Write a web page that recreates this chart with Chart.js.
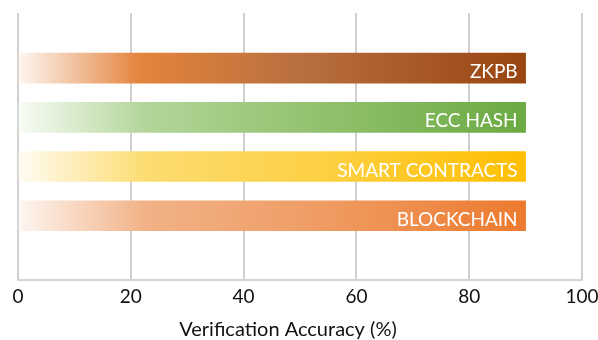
<!DOCTYPE html>
<html>
<head>
<meta charset="utf-8">
<script src="https://cdn.jsdelivr.net/npm/chart.js@4"></script>
<style>
html,body{margin:0;padding:0;background:#fff;}
#wrap{width:598px;height:340px;position:relative;}
</style>
</head>
<body>
<div id="wrap"><canvas id="c" width="598" height="340"></canvas></div>
<script>
const categories = ['ZKPB', 'ECC HASH', 'SMART CONTRACTS', 'BLOCKCHAIN'];
const accuracy = [90, 90, 90, 90];
const xTicks = [0, 20, 40, 60, 80, 100];
const xTitle = 'Verification Accuracy (%)';

const gradientStops = [
  [[0,'#fdf7f2'],[0.24,'#e4843d'],[0.55,'#b9703f'],[1,'#984511']],
  [[0,'#f8fcf6'],[0.25,'#b3d59a'],[0.6,'#92c16d'],[1,'#6aaa42']],
  [[0,'#fffcf3'],[0.25,'#fcdc72'],[0.6,'#fdd043'],[1,'#ffbf00']],
  [[0,'#fdf6f1'],[0.25,'#f2b287'],[0.6,'#ef9c63'],[1,'#ec7a2e']]
];

const FONT = 'Lato, "Open Sans", sans-serif';

const barLabels = {
  id: 'barLabels',
  afterDatasetsDraw(chart) {
    const ctx = chart.ctx;
    const meta = chart.getDatasetMeta(0);
    ctx.save();
    ctx.font = '19px ' + FONT;
    ctx.fillStyle = '#ffffff';
    ctx.textAlign = 'right';
    ctx.textBaseline = 'alphabetic';
    meta.data.forEach((bar, i) => {
      ctx.fillText(categories[i], bar.x - 8, bar.y + 10);
    });
    ctx.restore();
  }
};

const axisTitle = {
  id: 'axisTitle',
  afterDraw(chart) {
    const ctx = chart.ctx;
    const a = chart.chartArea;
    ctx.save();
    ctx.font = '20px ' + FONT;
    ctx.fillStyle = '#111';
    ctx.textAlign = 'center';
    ctx.textBaseline = 'alphabetic';
    ctx.fillText(xTitle, (a.left + a.right) / 2 - 12, a.bottom + 56);
    ctx.restore();
  }
};

new Chart(document.getElementById('c'), {
  type: 'bar',
  data: {
    datasets: [{
      data: accuracy.map((v, i) => ({ x: v, y: i + 1 })),
      barThickness: 30,
      borderWidth: 0,
      backgroundColor(ctx) {
        const chart = ctx.chart;
        const area = chart.chartArea;
        if (!area) return '#ccc';
        const xs = chart.scales.x;
        const x0 = xs.getPixelForValue(0);
        const x1 = xs.getPixelForValue(accuracy[ctx.dataIndex]);
        const g = chart.ctx.createLinearGradient(x0, 0, x1, 0);
        gradientStops[ctx.dataIndex].forEach(s => g.addColorStop(s[0], s[1]));
        return g;
      }
    }]
  },
  options: {
    indexAxis: 'y',
    responsive: false,
    animation: false,
    devicePixelRatio: 1,
    layout: { padding: { top: 13, left: 18, right: 16, bottom: 27 } },
    plugins: { legend: { display: false }, tooltip: { enabled: false } },
    scales: {
      y: {
        type: 'linear',
        reverse: true,
        offset: false,
        min: -0.12,
        max: 5.31,
        display: false
      },
      x: {
        type: 'linear',
        min: 0,
        max: 100,
        afterBuildTicks(axis) { axis.ticks = xTicks.map(v => ({ value: v })); },
        afterFit(scale) { scale.paddingLeft = 0; scale.paddingRight = 0; },
        grid: { color: '#d0d0d0', lineWidth: 2, drawTicks: false },
        border: { display: true, color: '#d4d4d4', width: 2 },
        ticks: { color: '#111', font: { family: FONT, size: 19 }, padding: 5, maxRotation: 0 },
        title: { display: false }
      }
    }
  },
  plugins: [barLabels, axisTitle]
});
</script>
</body>
</html>
